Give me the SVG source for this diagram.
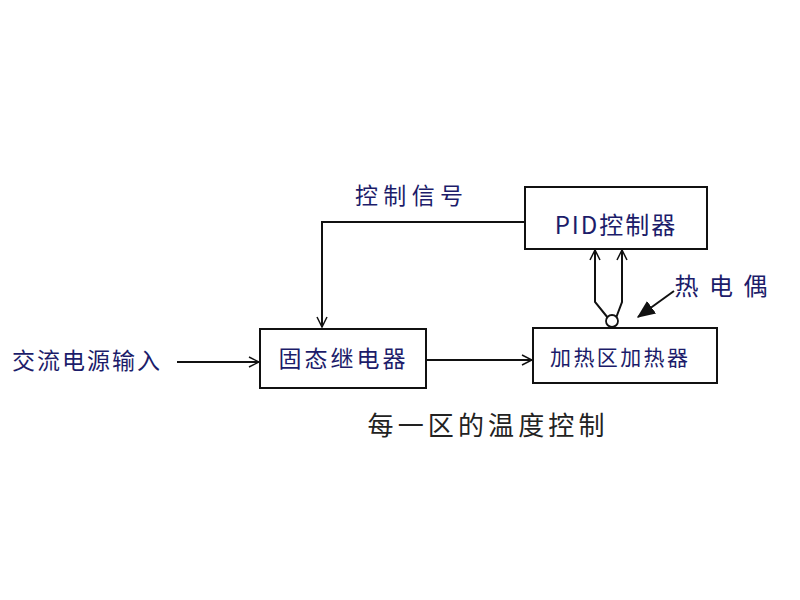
<svg xmlns="http://www.w3.org/2000/svg" width="800" height="600" viewBox="0 0 800 600">
<style>
.box{fill:#fff;stroke:#111;stroke-width:2}
.ln{fill:none;stroke:#111;stroke-width:2}
.t{font-family:"Noto Sans CJK SC","Liberation Sans",sans-serif;fill:#1c1c6a;dominant-baseline:central;text-anchor:middle}
.cap{fill:#222}
</style>
<defs>
<marker id="open" viewBox="0 0 12 12" refX="11" refY="6" markerWidth="12" markerHeight="12" markerUnits="userSpaceOnUse" orient="auto">
<path d="M1,1 L11,6 L1,11" fill="none" stroke="#111" stroke-width="1.5"/>
</marker>
<marker id="solid" viewBox="0 0 14 14" refX="13" refY="7" markerWidth="18" markerHeight="18" markerUnits="userSpaceOnUse" orient="auto">
<path d="M0,1 L14,7 L0,13 Z" fill="#111"/>
</marker>
</defs>
<rect width="800" height="600" fill="#fff"/>
<g id="connectors">
<path class="ln" d="M525,222 H322 V327" marker-end="url(#open)"/>
<path class="ln" d="M177,362 H259" marker-end="url(#open)"/>
<path class="ln" d="M426,360 H532" marker-end="url(#open)"/>
<path class="ln" d="M608,318 L595,302 V250" marker-end="url(#open)"/>
<path class="ln" d="M616,318 L622,302 V250" marker-end="url(#open)"/>
<path class="ln" d="M674,291 L638,317" stroke-width="1.3" marker-end="url(#solid)"/>
</g>
<g id="ssr">
<rect class="box" x="260" y="329" width="166" height="59"/>
<text class="t" x="342" y="357" font-size="23" textLength="127">固态继电器</text>
</g>
<g id="pid">
<rect class="box" x="525" y="187" width="182" height="62"/>
<text class="t" x="616" y="223" font-size="24" letter-spacing="2">PID控制器</text>
</g>
<g id="heater">
<rect class="box" x="533" y="328" width="184" height="55"/>
<text class="t" x="619" y="356" font-size="21" textLength="138">加热区加热器</text>
</g>
<g id="thermocouple">
<circle cx="612" cy="321" r="6" fill="#fff" stroke="#111" stroke-width="1.8"/>
<text class="t" x="721" y="284" font-size="24" textLength="93">热电偶</text>
</g>
<g id="labels">
<text class="t" x="409" y="194" font-size="23" textLength="108">控制信号</text>
<text class="t" x="86" y="359" font-size="23" textLength="148">交流电源输入</text>
<text class="t cap" x="486" y="423" font-size="26" textLength="237">每一区的温度控制</text>
</g>
</svg>
